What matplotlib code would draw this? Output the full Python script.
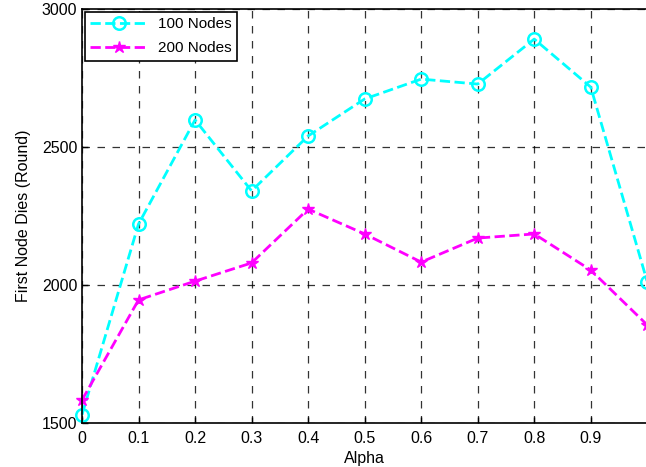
import numpy as np
import matplotlib.pyplot as plt

plt.rcParams['font.family'] = ['Liberation Sans', 'DejaVu Sans']

alpha = [0, 0.1, 0.2, 0.3, 0.4, 0.5, 0.6, 0.7, 0.8, 0.9, 1.0]
nodes_100 = [1530, 2221, 2598, 2341, 2540, 2674, 2746, 2728, 2891, 2717, 2011]
nodes_200 = [1583, 1946, 2014, 2080, 2275, 2185, 2083, 2170, 2185, 2054, 1855]
xticks = [0, 0.1, 0.2, 0.3, 0.4, 0.5, 0.6, 0.7, 0.8, 0.9]
yticks = [1500, 2000, 2500, 3000]

fig = plt.figure(figsize=(6.46, 4.67), dpi=100)
ax = fig.add_axes([82/646, 44/467, 1 - 82/646 + 0.002, 414/467])

ax.plot(alpha, nodes_100, color='#00ffff', linestyle='--', linewidth=2, marker='o',
        markersize=9, markerfacecolor='none', markeredgewidth=1.8,
        label='100 Nodes', clip_on=False)
ax.plot(alpha, nodes_200, color='#ff00ff', linestyle='--', linewidth=2, marker='*',
        markersize=9, markeredgewidth=1, label='200 Nodes', clip_on=False)

ax.set_xlim(0, 1.0)
ax.set_ylim(1500, 3000)
ax.set_xticks(xticks)
ax.set_xticklabels(['0'] + ['%.1f' % v for v in xticks[1:]])
ax.set_yticks(yticks)
ax.tick_params(direction='in', labelsize=11.5, length=4, width=1)
ax.tick_params(axis='x', pad=6)
ax.grid(True, color='black', linestyle=(0, (6, 6)), linewidth=0.9, alpha=0.8)
for s in ax.spines.values():
    s.set_linewidth(1.2)

ax.set_xlabel('Alpha', fontsize=11.5, labelpad=3)
ax.set_ylabel('First Node Dies (Round)', fontsize=11.5, labelpad=8)

leg = ax.legend(loc='upper left', fontsize=11, fancybox=False, framealpha=1,
                edgecolor='black', handlelength=3.8, borderaxespad=0.2,
                labelspacing=0.65, borderpad=0.35, handletextpad=0.6)
leg.get_frame().set_linewidth(1.2)

fig.savefig('out.png', dpi=100)
